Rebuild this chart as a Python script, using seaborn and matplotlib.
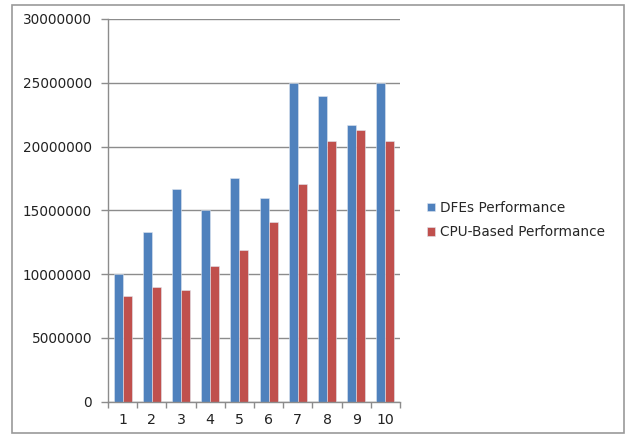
import matplotlib
matplotlib.use("Agg")
import matplotlib.pyplot as plt
import seaborn as sns
import pandas as pd
from matplotlib.patches import Rectangle
from matplotlib.ticker import FixedLocator

# Data
runs = ["1", "2", "3", "4", "5", "6", "7", "8", "9", "10"]
dfe_perf = [10000000, 13300000, 16700000, 15000000, 17500000,
            16000000, 25000000, 23950000, 21650000, 25000000]
cpu_perf = [8300000, 9000000, 8750000, 10600000, 11850000,
            14050000, 17050000, 20450000, 21300000, 20450000]
series_names = ["DFEs Performance", "CPU-Based Performance"]
y_ticks = [0, 5000000, 10000000, 15000000, 20000000, 25000000, 30000000]

df = pd.DataFrame({
    "run": runs * 2,
    "value": dfe_perf + cpu_perf,
    "series": [series_names[0]] * len(runs) + [series_names[1]] * len(runs),
})

sns.set_theme(style="white")
plt.rcParams["font.family"] = ["DejaVu Sans"]

fig = plt.figure(figsize=(6.25, 4.34), dpi=100)
ax = fig.add_axes([108 / 625, 32.5 / 434, 292 / 625, 382.5 / 434])

palette = {series_names[0]: "#4F81BD", series_names[1]: "#C0504D"}
sns.barplot(data=df, x="run", y="value", hue="series", palette=palette,
            width=0.62, gap=0, saturation=1, ax=ax,
            edgecolor="#dfe6f0", linewidth=0.4, legend=True)

ax.set_ylim(0, 30000000)
ax.set_xlim(-0.5, len(runs) - 0.5)
ax.set_yticks(y_ticks)
ax.set_yticklabels([str(t) for t in y_ticks])
ax.set_xlabel("")
ax.set_ylabel("")

grid_col = "#8c8c8c"
ax.yaxis.grid(True, color=grid_col, linewidth=1.0)
ax.set_axisbelow(True)
for side in ["top", "right"]:
    ax.spines[side].set_visible(False)
for side in ["left", "bottom"]:
    ax.spines[side].set_visible(True)
    ax.spines[side].set_color(grid_col)
    ax.spines[side].set_linewidth(1.0)

# category separators as minor ticks on the x axis
ax.xaxis.set_minor_locator(FixedLocator([i - 0.5 for i in range(len(runs) + 1)]))
ax.tick_params(axis="x", which="major", length=0, pad=8, labelsize=10.2,
               labelcolor="#222222")
ax.tick_params(axis="x", which="minor", length=4, width=1, color=grid_col,
               direction="out", bottom=True)
ax.tick_params(axis="y", which="major", length=5, width=1, color=grid_col,
               direction="out", left=True, pad=6.5, labelsize=9.8,
               labelcolor="#222222")

handles, labels = ax.get_legend_handles_labels()
ax.legend_.remove()
fig.legend(handles, labels, loc="center left",
           bbox_to_anchor=(415 / 625, 1 - 220 / 434), frameon=False,
           fontsize=9.8, handlelength=0.6, handleheight=0.6,
           handletextpad=0.35, labelspacing=0.75)

# outer chart border
fig.patches.append(Rectangle((12 / 625, 1 / 434), 612 / 625, 428 / 434,
                             transform=fig.transFigure, fill=False,
                             edgecolor="#9a9a9a", linewidth=1.2))

fig.savefig("out.png", dpi=100)
